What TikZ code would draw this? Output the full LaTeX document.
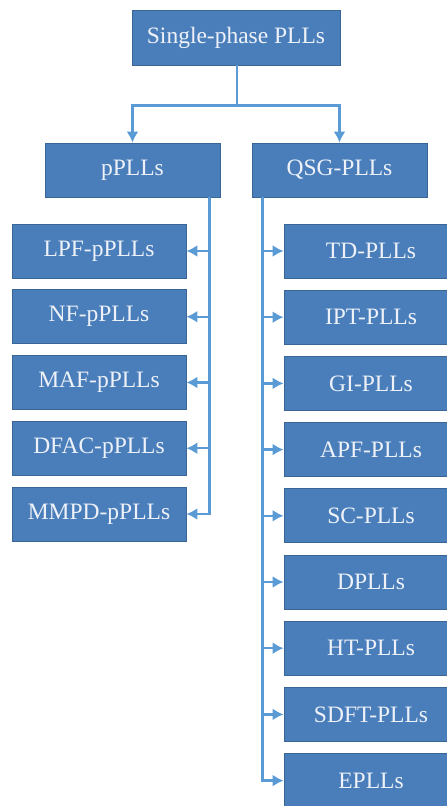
\documentclass[tikz,border=0pt]{standalone}
\usepackage{fontspec}
\setmainfont{Liberation Serif}
\usetikzlibrary{arrows.meta,calc}
\definecolor{boxfill}{HTML}{4A7EBB}
\definecolor{boxline}{HTML}{3A6696}
\definecolor{wire}{HTML}{5B9BD5}
\definecolor{boxtext}{HTML}{EEF2F8}
\begin{document}
\begin{tikzpicture}[x=1pt,y=-1pt,
  box/.style={draw=boxline, line width=0.8pt, fill=boxfill, text=boxtext,
    minimum width=174pt, minimum height=54pt, inner sep=0pt,
    font=\fontsize{23.5}{27}\selectfont},
  wireline/.style={draw=wire, line width=2.4pt},
  tip/.style={wireline, -{Latex[length=11pt,width=12pt]}}]
\useasboundingbox (0,0) rectangle (447,806);
\begin{scope}
\clip (0,0) rectangle (447,806);
% root and the two families
\node[box, minimum width=208pt, minimum height=55pt] (top) at (236,37.5) {Single-phase PLLs};
\node[box, minimum width=175pt] (p) at (132.5,170) {pPLLs};
\node[box, minimum width=175pt] (q) at (339.5,170) {QSG-PLLs};
% pPLL variants
\foreach \n/\t [count=\i from 0] in {l1/LPF-pPLLs,l2/NF-pPLLs,l3/MAF-pPLLs,l4/DFAC-pPLLs,l5/MMPD-pPLLs}
  \node[box] (\n) at (99,251+65.75*\i) {\t};
% QSG-PLL variants
\foreach \n/\t [count=\i from 0] in {r1/TD-PLLs,r2/IPT-PLLs,r3/GI-PLLs,r4/APF-PLLs,r5/SC-PLLs,r6/DPLLs,r7/HT-PLLs,r8/SDFT-PLLs,r9/EPLLs}
  \node[box] (\n) at (371,251+66.2*\i) {\t};
% split below the root
\coordinate (split) at ($(top.south)+(1,40)$);
\draw[wireline] (top.south -| split) -- (split);
\draw[tip] (split) -| (p.north);
\draw[tip] (split) -| (q.north);
% pPLL bus
\coordinate (pbus) at ([xshift=-11pt]p.south east);
\draw[tip] (pbus) |- (l5.east);
\foreach \n in {l1,l2,l3,l4}
  \draw[tip] (pbus |- \n.east) -- (\n.east);
% QSG bus
\coordinate (qbus) at ([xshift=11pt]q.south west);
\draw[tip] (qbus) |- (r9.west);
\foreach \n in {r1,r2,r3,r4,r5,r6,r7,r8}
  \draw[tip] (qbus |- \n.west) -- (\n.west);
\end{scope}
\end{tikzpicture}
\end{document}
